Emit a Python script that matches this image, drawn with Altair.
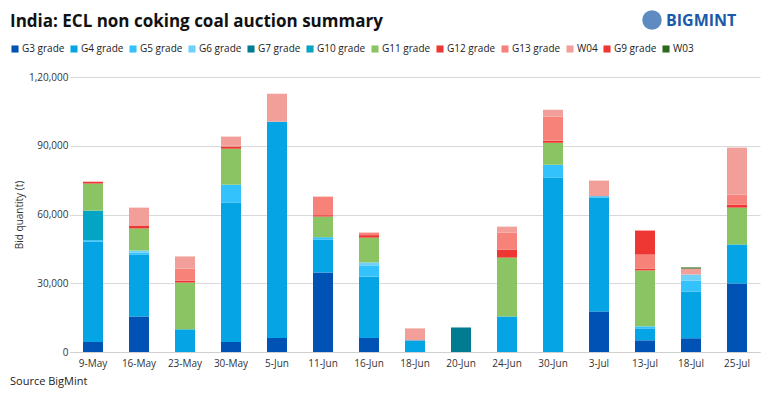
import altair as alt
import pandas as pd

dates = ["9-May", "16-May", "23-May", "30-May", "5-Jun", "11-Jun", "16-Jun", "18-Jun",
         "20-Jun", "24-Jun", "30-Jun", "3-Jul", "13-Jul", "18-Jul", "25-Jul"]
grades = ["G3 grade", "G4 grade", "G5 grade", "G6 grade", "G7 grade", "G10 grade",
          "G11 grade", "G12 grade", "G13 grade", "W04", "G9 grade", "W03"]
colors = ["#0052b4", "#05a4e4", "#33c2fc", "#6fd0fa", "#007b91", "#03a4c4",
          "#8bc563", "#ee3733", "#f6827a", "#f19f98", "#ee3733", "#2d6a1f"]

g3 = [4400, 15500, 0, 4400, 6100, 34700, 6100, 0, 0, 0, 0, 17700, 5100, 6000, 29900]
g4 = [43800, 27000, 9900, 60800, 94400, 14400, 26900, 5100, 0, 15500, 76100, 49700, 5200, 20400, 17000]
g5 = [600, 900, 0, 7800, 0, 1000, 4800, 0, 0, 0, 5600, 600, 900, 4800, 0]
g6 = [0, 900, 0, 0, 0, 0, 1300, 0, 0, 0, 0, 0, 0, 2600, 0]
g7 = [0, 0, 0, 0, 0, 0, 0, 0, 10700, 0, 0, 0, 0, 0, 0]
g10 = [12900, 0, 0, 0, 0, 0, 0, 0, 0, 0, 0, 0, 0, 0, 0]
g11 = [11800, 9600, 20400, 15700, 0, 9000, 10800, 0, 0, 25700, 9600, 0, 24400, 0, 16100]
g12 = [800, 1300, 900, 900, 0, 600, 1100, 0, 0, 3500, 900, 0, 800, 0, 1300]
g13 = [0, 0, 5200, 400, 0, 8100, 1100, 0, 0, 7400, 10500, 0, 6100, 0, 4400]
w04 = [0, 7800, 5300, 4000, 12200, 0, 0, 5200, 0, 2600, 3000, 6800, 0, 2600, 20500]
g9 = [0, 0, 0, 0, 0, 0, 0, 0, 0, 0, 0, 0, 10500, 0, 0]
w03 = [0, 0, 0, 0, 0, 0, 0, 0, 0, 0, 0, 0, 0, 500, 0]
series = [g3, g4, g5, g6, g7, g10, g11, g12, g13, w04, g9, w03]

rows = []
for gi, (g, vals) in enumerate(zip(grades, series)):
    for d, v in zip(dates, vals):
        rows.append({"date": d, "grade": g, "value": v, "order": gi})
df = pd.DataFrame(rows)

font = "Open Sans"

bars = alt.Chart(df).mark_bar(size=20).encode(
    x=alt.X("date:N", sort=dates, title=None,
            axis=alt.Axis(labelAngle=0, ticks=False, domainColor="#d0d0d0",
                          labelFontSize=10, labelColor="#333", labelPadding=6)),
    y=alt.Y("value:Q", title="Bid quantity (t)", scale=alt.Scale(domain=[0, 120000]),
            axis=alt.Axis(values=[0, 30000, 60000, 90000, 120000], domain=False, ticks=False,
                          gridColor="#d9d9d9", labelFontSize=10, labelColor="#333",
                          titleFontSize=10, titleFontWeight="normal", titleColor="#333",
                          labelExpr="datum.value == 120000 ? '1,20,000' : format(datum.value, ',')")),
    color=alt.Color("grade:N", sort=grades, title=None,
                    scale=alt.Scale(domain=grades, range=colors),
                    legend=alt.Legend(orient="none", legendX=-60, legendY=-33, direction="horizontal",
                                      columns=12, symbolType="square", symbolSize=50,
                                      labelFontSize=10, columnPadding=4, labelOffset=2,
                                      symbolOffset=0, labelColor="#222", labelFont=font)),
    order=alt.Order("order:Q"),
)

title = alt.Chart(pd.DataFrame({"t": ["India: ECL non coking coal auction summary"]})).mark_text(
    align="left", baseline="middle", fontSize=17, fontWeight="bold", font=font, color="#111"
).encode(text="t:N", x=alt.value(-60), y=alt.value(-55))

logo = alt.Chart(pd.DataFrame({"t": ["BIGMINT"]})).mark_text(
    align="left", baseline="middle", fontSize=16, fontWeight="bold", font=font, color="#1a5aa8"
).encode(text="t:N", x=alt.value(596), y=alt.value(-56))

logo_dot = alt.Chart(pd.DataFrame({"t": [1]})).mark_point(
    shape="circle", size=380, filled=True, color="#1a5aa8"
).encode(x=alt.value(582), y=alt.value(-57))

source = alt.Chart(pd.DataFrame({"t": ["Source BigMint"]})).mark_text(
    align="left", baseline="middle", fontSize=11, font=font, color="#222"
).encode(text="t:N", x=alt.value(-60), y=alt.value(30 + 275))

chart = alt.layer(bars, title, logo, logo_dot, source).properties(
    width=690, height=275,
    autosize=alt.AutoSizeParams(type="none"),
    padding={"left": 62, "top": 69, "right": 10, "bottom": 40},
).configure_view(stroke=None).configure_axis(labelFont=font, titleFont=font)

chart.save("out.html", embed_options={"renderer": "svg", "actions": False})
